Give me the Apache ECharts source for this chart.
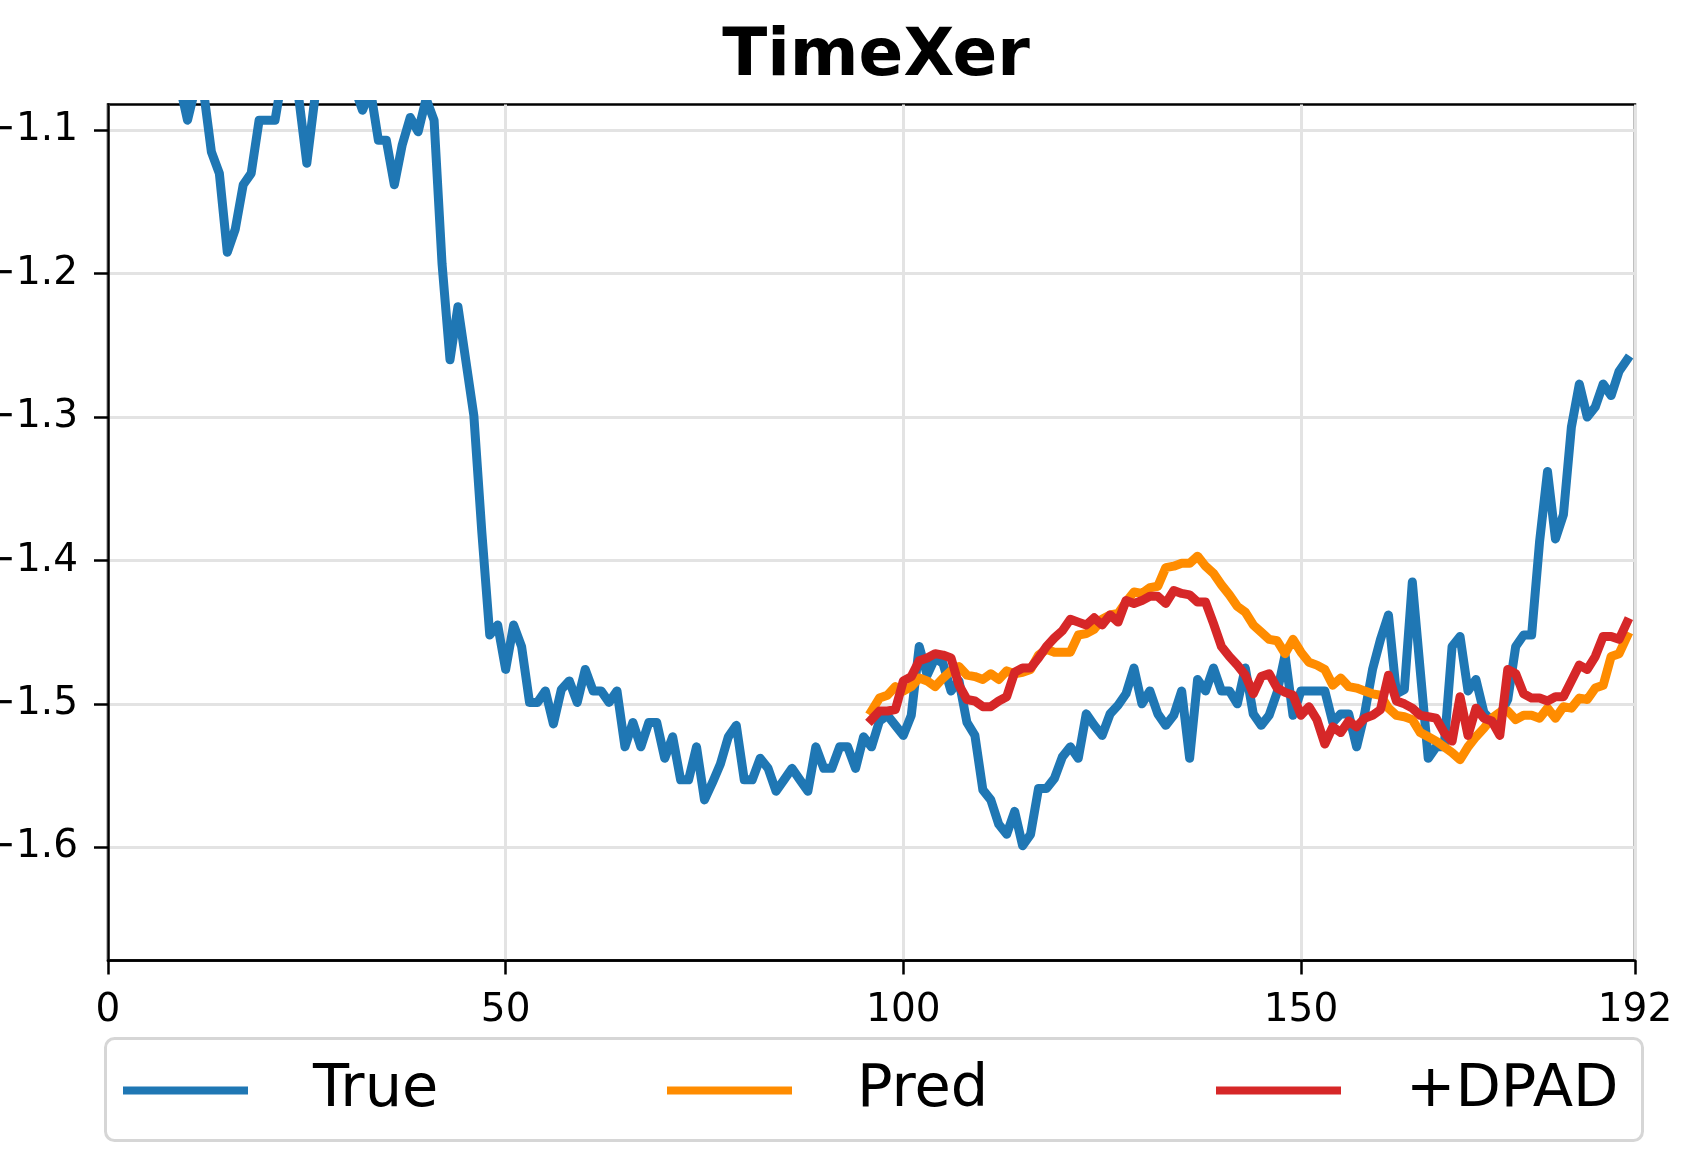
<!DOCTYPE html>
<html>
<head>
<meta charset="utf-8">
<script src="https://cdn.jsdelivr.net/npm/echarts@6/dist/echarts.min.js"></script>
<style>
  html, body { margin: 0; padding: 0; background: #fff; }
  #chart { width: 1706px; height: 1171px; }
</style>
</head>
<body>
<div id="chart"></div>
<script>
const xTicks = [0, 50, 100, 150, 192]
const yTicks = [-1.6, -1.5, -1.4, -1.3, -1.2, -1.1]
const seriesNames = ['True', 'Pred', '+DPAD']
const seriesColors = ['#1f77b4', '#ff8c00', '#d62728']
const predStart = 96

// ground truth, index 0..191 (first points sit above the visible range)
const trueValues = [
  -1.060, -1.055, -1.050, -1.058, -1.062, -1.055, -1.050, -1.060, -1.065, -1.068,
  -1.093, -1.070, -1.072, -1.115, -1.130, -1.185, -1.169, -1.138, -1.130, -1.093,
  -1.093, -1.093, -1.060, -1.055, -1.078, -1.123, -1.078, -1.060, -1.055, -1.062,
  -1.058, -1.070, -1.086, -1.072, -1.107, -1.107, -1.138, -1.110, -1.091, -1.101,
  -1.078, -1.093, -1.193, -1.260, -1.223, -1.261, -1.299, -1.380, -1.452, -1.445,
  -1.476, -1.445, -1.460, -1.499, -1.499, -1.491, -1.514, -1.490, -1.484, -1.499,
  -1.476, -1.491, -1.491, -1.499, -1.491, -1.530, -1.513, -1.530, -1.513, -1.513,
  -1.538, -1.523, -1.553, -1.553, -1.530, -1.567, -1.555, -1.542, -1.523, -1.515,
  -1.553, -1.553, -1.538, -1.545, -1.561, -1.553, -1.545, -1.553, -1.561, -1.530,
  -1.545, -1.545, -1.530, -1.530, -1.545, -1.523, -1.530, -1.512, -1.508, -1.515,
  -1.522, -1.508, -1.460, -1.480, -1.468, -1.472, -1.491, -1.484, -1.513, -1.522,
  -1.560, -1.567, -1.584, -1.591, -1.575, -1.599, -1.591, -1.559, -1.559, -1.552,
  -1.537, -1.530, -1.538, -1.507, -1.515, -1.522, -1.507, -1.501, -1.493, -1.475,
  -1.500, -1.491, -1.507, -1.515, -1.508, -1.491, -1.538, -1.483, -1.491, -1.475,
  -1.491, -1.491, -1.500, -1.475, -1.507, -1.515, -1.508, -1.492, -1.466, -1.508,
  -1.491, -1.491, -1.491, -1.491, -1.513, -1.507, -1.507, -1.530, -1.507, -1.476,
  -1.455, -1.438, -1.493, -1.490, -1.415, -1.477, -1.538, -1.530, -1.530, -1.460,
  -1.453, -1.491, -1.483, -1.506, -1.512, -1.508, -1.497, -1.460, -1.452, -1.452,
  -1.387, -1.338, -1.385, -1.368, -1.307, -1.277, -1.300, -1.293, -1.277, -1.285,
  -1.268, -1.260
]

// forecast, index 96..191
const predValues = [
  -1.505, -1.496, -1.494, -1.488, -1.491, -1.488, -1.482, -1.484, -1.488, -1.482,
  -1.477, -1.474, -1.480, -1.481, -1.483, -1.479, -1.483, -1.477, -1.479, -1.478,
  -1.476, -1.466, -1.462, -1.464, -1.464, -1.464, -1.452, -1.451, -1.448, -1.441,
  -1.438, -1.437, -1.429, -1.422, -1.423, -1.419, -1.418, -1.405, -1.404, -1.402,
  -1.402, -1.397, -1.404, -1.409, -1.417, -1.424, -1.432, -1.436, -1.445, -1.450,
  -1.455, -1.456, -1.465, -1.455, -1.464, -1.471, -1.473, -1.476, -1.487, -1.482,
  -1.488, -1.489, -1.491, -1.493, -1.494, -1.503, -1.508, -1.509, -1.511, -1.520,
  -1.523, -1.526, -1.530, -1.534, -1.539, -1.530, -1.523, -1.517, -1.510, -1.506,
  -1.505, -1.511, -1.508, -1.508, -1.510, -1.503, -1.510, -1.502, -1.503, -1.496,
  -1.497, -1.489, -1.487, -1.467, -1.465, -1.453
]

const dpadValues = [
  -1.511, -1.505, -1.505, -1.504, -1.484, -1.481, -1.470, -1.468, -1.465, -1.466,
  -1.468, -1.487, -1.497, -1.498, -1.502, -1.502, -1.498, -1.495, -1.478, -1.475,
  -1.475, -1.468, -1.460, -1.454, -1.449, -1.441, -1.443, -1.445, -1.440, -1.445,
  -1.438, -1.443, -1.428, -1.430, -1.428, -1.425, -1.425, -1.430, -1.421, -1.423,
  -1.424, -1.429, -1.429, -1.444, -1.460, -1.467, -1.473, -1.480, -1.493, -1.481,
  -1.479, -1.489, -1.492, -1.494, -1.508, -1.502, -1.511, -1.528, -1.516, -1.520,
  -1.512, -1.516, -1.510, -1.508, -1.504, -1.480, -1.498, -1.500, -1.503, -1.508,
  -1.509, -1.510, -1.520, -1.526, -1.495, -1.522, -1.503, -1.510, -1.512, -1.522,
  -1.476, -1.479, -1.493, -1.496, -1.496, -1.498, -1.495, -1.495, -1.484, -1.473,
  -1.476, -1.467, -1.453, -1.453, -1.455, -1.443
]

const FONT = 'DejaVu Sans'

const toPairs = (values, start) => values.map((v, k) => [k + start, v])

const lineSeries = (name, color, data) => ({
    name,
    type: 'line',
    data,
    showSymbol: false,
    clip: true,
    itemStyle: { color },
    lineStyle: { color, width: 9, join: 'round', cap: 'square' }
})

const legendAt = (name, left) => ({
    data: [name],
    left,
    top: 1056,
    padding: 5,
    icon: 'rect',
    itemWidth: 125,
    itemHeight: 8,
    selectedMode: false,
    textStyle: { fontFamily: FONT, fontSize: 59, color: '#000', padding: [0, 0, 0, 60] }
})

const chart = echarts.init(document.getElementById('chart'), null, { renderer: 'canvas' })

const option = {
    animation: false,
    backgroundColor: '#fff',
    title: {
        text: 'TimeXer',
        left: 871,
        textAlign: 'center',
        top: 20,
        textStyle: { fontFamily: FONT, fontSize: 66, fontWeight: 'bold', color: '#000' }
    },
    grid: {
        left: 108,
        right: 71,
        top: 104.5,
        bottom: 210.5,
        containLabel: false,
        outerBoundsMode: 'none',
        show: true,
        borderColor: '#000',
        borderWidth: 2.5,
        backgroundColor: 'transparent'
    },
    xAxis: {
        type: 'value',
        min: 0,
        max: 192,
        axisLine: { show: true, lineStyle: { color: '#000', width: 2.5 } },
        axisTick: { show: true, length: 14, lineStyle: { color: '#000', width: 2.5 }, customValues: xTicks },
        axisLabel: {
            customValues: xTicks,
            margin: 31,
            fontFamily: FONT,
            fontSize: 39,
            color: '#000'
        },
        splitLine: { show: true, lineStyle: { color: '#e3e3e3', width: 3 } }
    },
    yAxis: {
        type: 'value',
        min: -1.679,
        max: -1.082,
        axisLine: { show: true, lineStyle: { color: '#000', width: 2.5 } },
        axisTick: { show: true, length: 14, lineStyle: { color: '#000', width: 2.5 }, customValues: yTicks },
        axisLabel: {
            customValues: yTicks,
            margin: 30,
            fontFamily: FONT,
            fontSize: 39,
            color: '#000',
            formatter: v => v.toFixed(1).replace('-', '\u2212')
        },
        splitLine: { show: true, lineStyle: { color: '#e3e3e3', width: 3 } }
    },
    legend: [
        legendAt(seriesNames[0], 118),
        legendAt(seriesNames[1], 662),
        legendAt(seriesNames[2], 1211)
    ],
    graphic: [{
        type: 'rect',
        left: 104,
        top: 1037,
        z: -1,
        shape: { width: 1537, height: 102, r: 9 },
        style: { fill: '#fff', stroke: '#d6d6d6', lineWidth: 3 }
    }],
    series: [
        lineSeries(seriesNames[0], seriesColors[0], toPairs(trueValues, 0)),
        lineSeries(seriesNames[1], seriesColors[1], toPairs(predValues, predStart)),
        lineSeries(seriesNames[2], seriesColors[2], toPairs(dpadValues, predStart))
    ]
}

chart.setOption(option)
</script>
</body>
</html>
